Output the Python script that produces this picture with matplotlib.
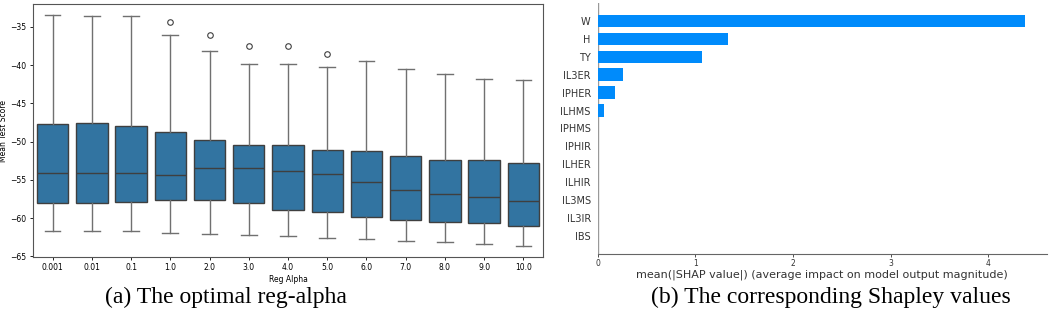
import matplotlib
matplotlib.use("Agg")
import matplotlib.pyplot as plt
import numpy as np

# ---------------- data: (a) boxplot ----------------
alphas = ["0.001", "0.01", "0.1", "1.0", "2.0", "3.0", "4.0", "5.0", "6.0", "7.0", "8.0", "9.0", "10.0"]
whis_hi = [-33.4, -33.6, -33.6, -36.0, -38.2, -39.9, -39.9, -40.3, -39.5, -40.5, -41.2, -41.8, -42.0]
q3 = [-47.7, -47.6, -47.9, -48.8, -49.8, -50.4, -50.5, -51.1, -51.2, -51.9, -52.4, -52.4, -52.8]
medians = [-54.1, -54.1, -54.1, -54.4, -53.5, -53.4, -53.8, -54.3, -55.3, -56.3, -56.8, -57.3, -57.8]
q1 = [-58.0, -58.0, -57.9, -57.6, -57.7, -58.0, -58.9, -59.2, -59.9, -60.2, -60.5, -60.7, -61.0]
whis_lo = [-61.7, -61.7, -61.7, -61.9, -62.1, -62.2, -62.4, -62.6, -62.8, -63.0, -63.2, -63.4, -63.6]
outliers = [[], [], [], [-34.4], [-36.0], [-37.5], [-37.5], [-38.6], [], [], [], [], []]

# ---------------- data: (b) SHAP bar ----------------
features = ["W", "H", "TY", "IL3ER", "IPHER", "ILHMS", "IPHMS", "IPHIR", "ILHER", "ILHIR", "IL3MS", "IL3IR", "IBS"]
shap_vals = [4.38, 1.337, 1.073, 0.263, 0.177, 0.065, 0.0, 0.0, 0.0, 0.0, 0.0, 0.0, 0.0]

W, H = 1052, 314
fig = plt.figure(figsize=(W / 100, H / 100), dpi=100)

# ---------------- (a) ----------------
ax1 = fig.add_axes([33 / W, (H - 257) / H, 510 / W, 253 / H])
stats = []
for i in range(len(alphas)):
    stats.append(dict(med=medians[i], q1=q1[i], q3=q3[i], whislo=whis_lo[i],
                      whishi=whis_hi[i], fliers=outliers[i], label=alphas[i]))
edge = "#3f3f3f"
ax1.bxp(stats, positions=np.arange(len(alphas)), widths=0.8, patch_artist=True,
        boxprops=dict(facecolor="#3274a1", edgecolor=edge, linewidth=1.0),
        medianprops=dict(color=edge, linewidth=1.0),
        whiskerprops=dict(color="#707070", linewidth=1.0),
        capprops=dict(color="#707070", linewidth=1.0),
        flierprops=dict(marker="o", markerfacecolor="none", markeredgecolor="#3f3f3f",
                        markersize=4, markeredgewidth=0.8))
ax1.set_xlim(-0.5, len(alphas) - 0.5)
ax1.set_ylim(-65.1, -32.0)
ax1.set_yticks([-65, -60, -55, -50, -45, -40, -35])
ax1.set_xticks(np.arange(len(alphas)))
ax1.set_xticklabels(alphas)
ax1.tick_params(labelsize=5.5, length=2.5, width=0.6, pad=2)
ax1.set_xlabel("Reg Alpha", fontsize=5.5, labelpad=2)
ax1.set_ylabel("Mean Test Score", fontsize=5.5, labelpad=2)
for s in ax1.spines.values():
    s.set_color("#555555")
    s.set_linewidth(0.8)

# ---------------- (b) ----------------
ax2 = fig.add_axes([597.7 / W, (H - 254) / H, 449 / W, 251 / H])
n = len(features)
ypos = np.arange(n)[::-1]
ax2.barh(ypos, shap_vals, 0.7, align="center", color="#008bfb")
ax2.axvline(0, color="#999999", zorder=-1, linewidth=1.0)
ax2.set_yticks(ypos)
ax2.set_yticklabels(features, fontsize=7, color="#333333")
ax2.set_ylim(-1, n)
ax2.set_xlim(0, 4.6)
ax2.set_xticks([0, 1, 2, 3, 4])
ax2.tick_params(axis="x", labelsize=5.5, length=2.5, width=0.6, pad=1, color="#333333", labelcolor="#333333")
ax2.tick_params(axis="y", length=0, pad=5)
ax2.set_xlabel("mean(|SHAP value|) (average impact on model output magnitude)",
               fontsize=8, color="#333333", labelpad=1)
for k in ["top", "right", "left"]:
    ax2.spines[k].set_visible(False)
ax2.spines["bottom"].set_color("#666666")
ax2.spines["bottom"].set_linewidth(0.8)

# ---------------- captions ----------------
fig.text(226 / W, 1 - 297 / H, "(a) The optimal reg-alpha", fontsize=17,
         family="Liberation Serif", ha="center", va="center")
fig.text(831 / W, 1 - 297 / H, "(b) The corresponding Shapley values", fontsize=17,
         family="Liberation Serif", ha="center", va="center")

fig.savefig("out.png", dpi=100)
